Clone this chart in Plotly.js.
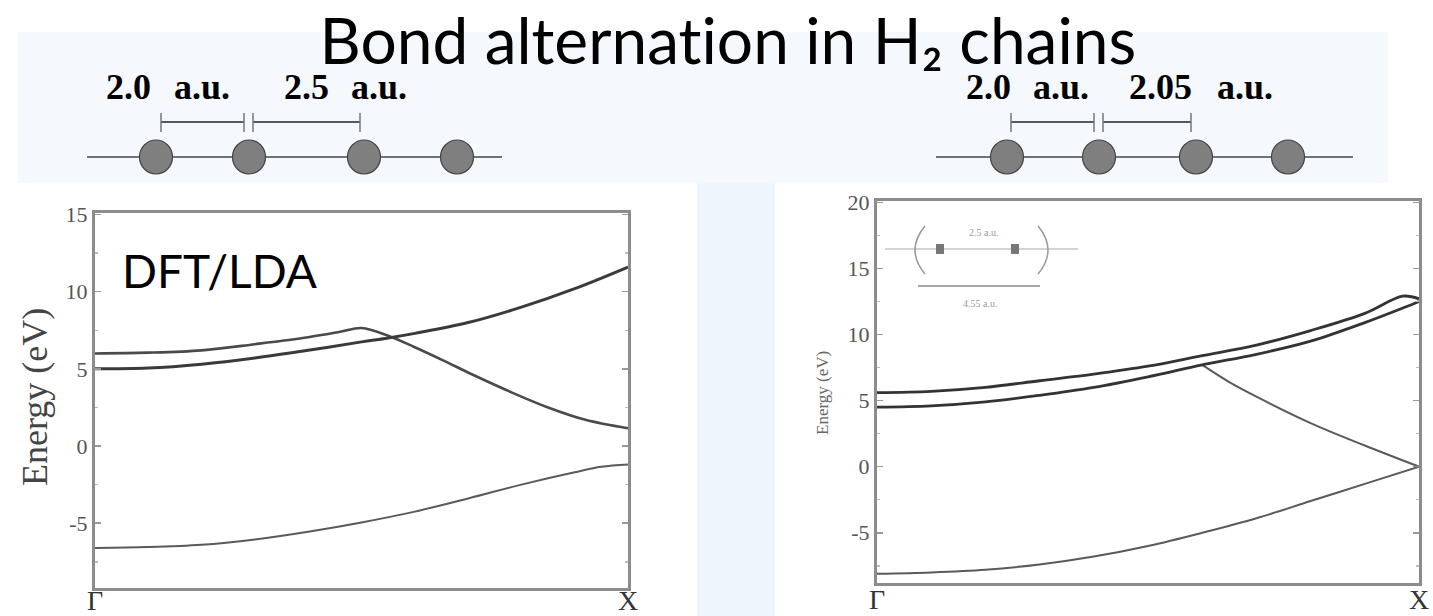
<!DOCTYPE html>
<html>
<head>
<meta charset="utf-8">
<script src="https://cdn.plot.ly/plotly-3.0.1.min.js"></script>
<style>
  html, body { margin: 0; padding: 0; background: #ffffff; }
  #chart { width: 1433px; height: 616px; }
  #chart text { font-variant-ligatures: none; font-feature-settings: "liga" 0, "dlig" 0; }
</style>
</head>
<body>
<div id="chart"></div>
<script>
// ---------------- data ----------------
const titleText = 'Bond alternation in H₂ chains';
const panelLabel = 'DFT/LDA';
const yAxisLabel = 'Energy (eV)';
const kTickVals = [0, 1];
const kTickText = ['Γ', 'X'];
const yTicksLeft = [-5, 0, 5, 10, 15];
const yTicksRight = [-5, 0, 5, 10, 15, 20];
const bondLabelsLeft = ['2.0', 'a.u.', '2.5', 'a.u.'];
const bondLabelsRight = ['2.0', 'a.u.', '2.05', 'a.u.'];
const insetLabels = ['2.5 a.u.', '4.55 a.u.'];

// Left panel (2.0 / 2.5 a.u.) bands, k from Γ (0) to X (1)
const leftK1 = [0, 0.1, 0.2, 0.3, 0.4, 0.46, 0.5, 0.55, 0.6, 0.65, 0.71, 0.78, 0.85, 0.92, 1.0];
const leftE1 = [6.0, 6.05, 6.2, 6.6, 7.05, 7.4, 7.65, 7.15, 6.4, 5.6, 4.6, 3.5, 2.5, 1.7, 1.15];
const leftK2 = [0, 0.1, 0.2, 0.3, 0.4, 0.5, 0.55, 0.6, 0.7, 0.8, 0.9, 1.0];
const leftE2 = [5.0, 5.05, 5.3, 5.7, 6.2, 6.75, 7.0, 7.3, 8.0, 9.0, 10.2, 11.6];
const leftK3 = [0, 0.1, 0.2, 0.3, 0.4, 0.5, 0.6, 0.7, 0.8, 0.9, 0.95, 1.0];
const leftE3 = [-6.6, -6.55, -6.4, -6.05, -5.55, -4.95, -4.25, -3.4, -2.5, -1.7, -1.35, -1.2];

// Right panel (2.0 / 2.05 a.u.) bands
const rightKA = [0, 0.1, 0.2, 0.3, 0.4, 0.5, 0.6, 0.7, 0.8, 0.9, 0.97, 1.0];
const rightEA = [5.6, 5.7, 6.0, 6.5, 7.0, 7.6, 8.4, 9.2, 10.3, 11.6, 12.9, 12.7];
const rightKB = [0, 0.1, 0.2, 0.3, 0.4, 0.5, 0.6, 0.7, 0.8, 0.9, 0.97, 1.0];
const rightEB = [4.5, 4.6, 4.9, 5.4, 6.0, 6.8, 7.7, 8.5, 9.5, 10.9, 12.0, 12.5];
const rightKC = [0.6, 0.65, 0.7, 0.8, 0.9, 1.0];
const rightEC = [7.7, 6.4, 5.3, 3.3, 1.6, 0.0];
const rightKD = [0, 0.1, 0.2, 0.3, 0.4, 0.5, 0.6, 0.7, 0.8, 0.9, 1.0];
const rightED = [-8.1, -8.0, -7.8, -7.4, -6.8, -6.0, -5.0, -3.9, -2.6, -1.3, 0.0];

// ---------------- helpers (pixel -> paper) ----------------
const W = 1433, H = 616;
const PX = v => v / W;
const PY = v => 1 - v / H;

function band(x, y, xa, ya, color, width) {
  return { x: x, y: y, xaxis: xa, yaxis: ya, type: 'scatter', mode: 'lines',
           line: { color: color, width: width, shape: 'spline', smoothing: 1 },
           hoverinfo: 'skip', showlegend: false };
}

const traces = [
  band(leftK3, leftE3, 'x', 'y', '#5a5a5a', 2),
  band(leftK1, leftE1, 'x', 'y', '#4a4a4a', 2.6),
  band(leftK2, leftE2, 'x', 'y', '#3a3a3a', 3),
  band(rightKD, rightED, 'x2', 'y2', '#5a5a5a', 2),
  band(rightKC, rightEC, 'x2', 'y2', '#5a5a5a', 2),
  band(rightKA, rightEA, 'x2', 'y2', '#333333', 2.8),
  band(rightKB, rightEB, 'x2', 'y2', '#333333', 2.8)
];

const frameColor = '#8c8c8c';
const serif = 'Liberation Serif, Times New Roman, serif';
const sans = 'Lato, Open Sans, sans-serif';

function xAxis(domain, anchor) {
  return { domain: domain, range: [0, 1], anchor: anchor, showticklabels: false,
           ticks: '', showgrid: false, zeroline: false, showline: true, mirror: true,
           linecolor: frameColor, linewidth: 3, fixedrange: true };
}
function yAxis(domain, range, ticks, anchor) {
  return { domain: domain, range: range, tickvals: ticks, ticktext: ticks.map(String),
           anchor: anchor, ticks: 'inside', ticklen: 6, tickwidth: 1.5, tickcolor: '#999',
           minor: { dtick: 2.5, tick0: 0, ticks: 'inside', ticklen: 3, tickcolor: '#bbb', showgrid: false },
           showgrid: false, zeroline: false, showline: true, mirror: 'ticks',
           linecolor: frameColor, linewidth: 3,
           tickfont: { family: serif, size: 22, color: '#555' }, fixedrange: true };
}

const shapes = [];
// slide background bands
shapes.push({ type: 'rect', xref: 'paper', yref: 'paper', layer: 'below',
  x0: PX(18), x1: PX(1388), y0: PY(183), y1: PY(32), line: { width: 0 }, fillcolor: '#f5f9fd' });
shapes.push({ type: 'rect', xref: 'paper', yref: 'paper', layer: 'below',
  x0: PX(697), x1: PX(775), y0: PY(616), y1: PY(183), line: { width: 0 }, fillcolor: '#eef5fc' });

// chain diagrams
function chain(lineX0, lineX1, atoms, br) {
  shapes.push({ type: 'line', xref: 'paper', yref: 'paper', x0: PX(lineX0), x1: PX(lineX1),
    y0: PY(157), y1: PY(157), line: { color: '#444', width: 1.5 } });
  atoms.forEach(cx => shapes.push({ type: 'circle', xref: 'paper', yref: 'paper',
    x0: PX(cx - 16.5), x1: PX(cx + 16.5), y0: PY(174), y1: PY(140),
    fillcolor: '#7f7f7f', line: { color: '#444', width: 1.2 } }));
  [[br[0], br[1]], [br[2], br[3]]].forEach(seg => {
    shapes.push({ type: 'line', xref: 'paper', yref: 'paper', x0: PX(seg[0]), x1: PX(seg[1]),
      y0: PY(122), y1: PY(122), line: { color: '#222', width: 1.3 } });
    seg.forEach(xx => shapes.push({ type: 'line', xref: 'paper', yref: 'paper', x0: PX(xx), x1: PX(xx),
      y0: PY(113), y1: PY(132), line: { color: '#777', width: 1.5 } }));
  });
}
chain(87, 502, [156, 249, 364, 457], [161, 244, 253, 360]);
chain(936, 1353, [1007, 1099, 1196, 1288], [1011, 1094, 1103, 1191]);

// inset diagram in right panel
shapes.push({ type: 'line', xref: 'paper', yref: 'paper', x0: PX(885), x1: PX(1078), y0: PY(249), y1: PY(249),
  line: { color: '#aaa', width: 1.2 } });
shapes.push({ type: 'path', xref: 'paper', yref: 'paper',
  path: 'M ' + PX(925) + ',' + PY(226) + ' Q ' + PX(905) + ',' + PY(250) + ' ' + PX(925) + ',' + PY(274),
  line: { color: '#999', width: 1.5 } });
shapes.push({ type: 'path', xref: 'paper', yref: 'paper',
  path: 'M ' + PX(1038) + ',' + PY(226) + ' Q ' + PX(1058) + ',' + PY(250) + ' ' + PX(1038) + ',' + PY(274),
  line: { color: '#999', width: 1.5 } });
[940, 1015].forEach(hx => shapes.push({ type: 'rect', xref: 'paper', yref: 'paper',
  x0: PX(hx - 4), x1: PX(hx + 4), y0: PY(254), y1: PY(244), fillcolor: '#777', line: { width: 0 } }));
shapes.push({ type: 'line', xref: 'paper', yref: 'paper', x0: PX(918), x1: PX(1040), y0: PY(286), y1: PY(286),
  line: { color: '#888', width: 1.5 } });

const annotations = [];
function txt(text, x, y, font, xanchor, extra) {
  annotations.push(Object.assign({ text: text, x: PX(x), y: PY(y), xref: 'paper', yref: 'paper',
    showarrow: false, xanchor: xanchor || 'center', yanchor: 'middle', font: font, borderpad: 0 }, extra || {}));
}
// title
txt(titleText, 728, 39, { family: sans, size: 64, color: '#000' });
// bond labels
const bondFont = { family: serif, size: 36, color: '#000' };
const leftPos = [105, 173, 283, 350];
const rightPos = [965, 1032, 1128, 1216];
bondLabelsLeft.forEach((t, i) => txt('<b>' + t + '</b>', leftPos[i], 87, bondFont, 'left'));
bondLabelsRight.forEach((t, i) => txt('<b>' + t + '</b>', rightPos[i], 87, bondFont, 'left'));
// panel label
txt(panelLabel, 121, 270, { family: sans, size: 46, color: '#000' }, 'left');
// y axis titles
txt(yAxisLabel, 35, 397, { family: serif, size: 36, color: '#444' }, 'center', { textangle: -90 });
txt(yAxisLabel, 822, 393, { family: serif, size: 17, color: '#666' }, 'center', { textangle: -90 });
// inset labels
txt(insetLabels[0], 983, 232, { family: serif, size: 10, color: '#999' });
txt(insetLabels[1], 980, 304, { family: serif, size: 10, color: '#999' });
// k-point labels placed via the band axes
kTickVals.forEach((k, i) => {
  annotations.push({ text: kTickText[i], x: k, xref: 'x', y: PY(600), yref: 'paper', showarrow: false,
    xanchor: 'center', yanchor: 'middle', borderpad: 0, font: { family: serif, size: 28, color: '#333' } });
  annotations.push({ text: kTickText[i], x: k, xref: 'x2', y: PY(599), yref: 'paper', showarrow: false,
    xanchor: 'center', yanchor: 'middle', borderpad: 0, font: { family: serif, size: 28, color: '#333' } });
});

const layout = {
  width: W, height: H,
  margin: { l: 0, r: 0, t: 0, b: 0 },
  paper_bgcolor: '#ffffff',
  plot_bgcolor: 'rgba(0,0,0,0)',
  showlegend: false,
  xaxis: xAxis([PX(95), PX(628)], 'y'),
  yaxis: yAxis([PY(588), PY(213)], [-9.2, 15.1], yTicksLeft, 'x'),
  xaxis2: xAxis([PX(877), PX(1419)], 'y2'),
  yaxis2: yAxis([PY(583), PY(201)], [-8.8, 20.1], yTicksRight, 'x2'),
  shapes: shapes,
  annotations: annotations
};

Plotly.newPlot('chart', traces, layout, { staticPlot: true, displayModeBar: false });
</script>
</body>
</html>
